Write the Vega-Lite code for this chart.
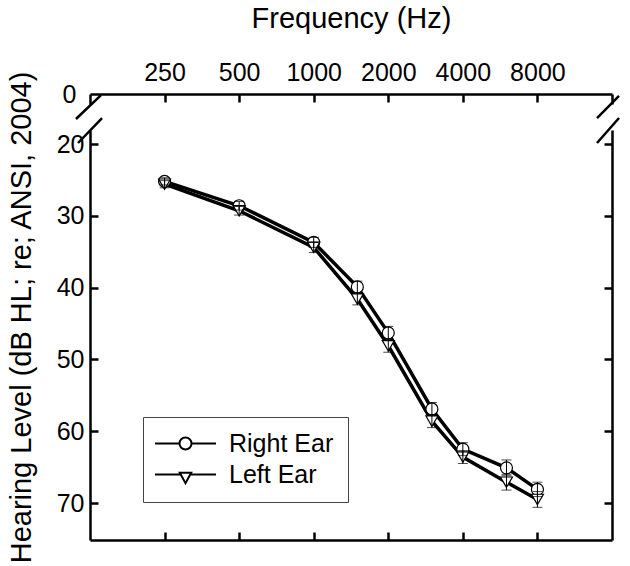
{
  "$schema": "https://vega.github.io/schema/vega-lite/v6.json",
  "background": "white",
  "padding": {"left": 7, "top": 4, "right": 5, "bottom": 5},
  "bounds": "flush",
  "spacing": 26,
  "config": {
    "font": "Liberation Sans",
    "view": {"stroke": null},
    "axis": {
      "grid": false,
      "domainColor": "black",
      "domainWidth": 2.5,
      "tickColor": "black",
      "tickWidth": 2.5,
      "labelColor": "black",
      "titleColor": "black",
      "labelFont": "Liberation Sans",
      "titleFont": "Liberation Sans",
      "labelFontSize": 25,
      "titleFontSize": 29,
      "titleFontWeight": "normal",
      "labelOverlap": false
    }
  },
  "datasets": {
    "audio": [
      {"ear": "Right Ear", "freq": 250, "hl": 25.2, "lo": 24.7, "hi": 25.7},
      {"ear": "Right Ear", "freq": 500, "hl": 28.6, "lo": 28.0, "hi": 29.2},
      {"ear": "Right Ear", "freq": 1000, "hl": 33.7, "lo": 33.0, "hi": 34.4},
      {"ear": "Right Ear", "freq": 1500, "hl": 39.9, "lo": 39.1, "hi": 40.7},
      {"ear": "Right Ear", "freq": 2000, "hl": 46.3, "lo": 45.4, "hi": 47.2},
      {"ear": "Right Ear", "freq": 3000, "hl": 56.9, "lo": 56.0, "hi": 57.8},
      {"ear": "Right Ear", "freq": 4000, "hl": 62.5, "lo": 61.6, "hi": 63.4},
      {"ear": "Right Ear", "freq": 6000, "hl": 65.1, "lo": 64.0, "hi": 66.2},
      {"ear": "Right Ear", "freq": 8000, "hl": 68.1, "lo": 67.1, "hi": 69.1},
      {"ear": "Left Ear", "freq": 250, "hl": 25.6, "lo": 25.1, "hi": 26.1},
      {"ear": "Left Ear", "freq": 500, "hl": 29.3, "lo": 28.7, "hi": 29.9},
      {"ear": "Left Ear", "freq": 1000, "hl": 34.4, "lo": 33.7, "hi": 35.1},
      {"ear": "Left Ear", "freq": 1500, "hl": 41.6, "lo": 40.8, "hi": 42.4},
      {"ear": "Left Ear", "freq": 2000, "hl": 48.1, "lo": 47.2, "hi": 49.0},
      {"ear": "Left Ear", "freq": 3000, "hl": 58.6, "lo": 57.7, "hi": 59.5},
      {"ear": "Left Ear", "freq": 4000, "hl": 63.6, "lo": 62.7, "hi": 64.5},
      {"ear": "Left Ear", "freq": 6000, "hl": 67.1, "lo": 66.0, "hi": 68.2},
      {"ear": "Left Ear", "freq": 8000, "hl": 69.5, "lo": 68.4, "hi": 70.6}
    ]
  },
  "resolve": {"legend": {"shape": "independent"}, "scale": {"shape": "independent"}},
  "vconcat": [
    {
      "width": 522,
      "height": 10,
      "data": {"name": "audio"},
      "layer": [
        {
          "mark": {"type": "point", "opacity": 0},
          "encoding": {
            "x": {
              "field": "freq", "type": "quantitative",
              "scale": {"type": "log", "domain": [125, 16000], "nice": false},
              "axis": {"orient": "top", "values": [250, 500, 1000, 2000, 4000, 8000], "format": "d", "title": "Frequency (Hz)", "tickSize": -8, "labelPadding": 17, "titlePadding": 27, "labelFlush": false}
            },
            "y": {
              "datum": 0, "type": "quantitative",
              "scale": {"domain": [0, 1.4], "reverse": true, "nice": false},
              "axis": {"values": [0], "tickSize": 0, "labelPadding": 14, "title": null}
            }
          }
        },
        {
          "mark": {"type": "point", "opacity": 0},
          "encoding": {
            "x": {"field": "freq", "type": "quantitative"},
            "y": {"datum": 0, "type": "quantitative", "axis": {"orient": "right", "values": [0], "labels": false, "ticks": false, "title": null}}
          }
        }
      ],
      "resolve": {"axis": {"y": "independent"}}
    },
    {
      "width": 522,
      "height": 410,
      "data": {"name": "audio"},
      "layer": [
        {
          "mark": {"type": "line", "color": "black", "strokeWidth": 3.5},
          "encoding": {
            "x": {
              "field": "freq", "type": "quantitative",
              "scale": {"type": "log", "domain": [125, 16000], "nice": false},
              "axis": {"orient": "bottom", "values": [250, 500, 1000, 2000, 4000, 8000], "labels": false, "tickSize": -8, "title": null}
            },
            "y": {
              "field": "hl", "type": "quantitative",
              "scale": {"domain": [18.05, 75.15], "reverse": true, "nice": false, "zero": false},
              "axis": {"orient": "left", "values": [20, 30, 40, 50, 60, 70], "tickSize": -8, "labelPadding": 14, "title": "Hearing Level (dB HL; re; ANSI, 2004)", "titlePadding": 20, "titleY": 187}
            },
            "detail": {"field": "ear", "type": "nominal"}
          }
        },
        {
          "mark": {"type": "point", "fill": "white", "stroke": "black", "strokeWidth": 1.2, "size": 144, "opacity": 1, "fillOpacity": 1},
          "encoding": {
            "x": {"field": "freq", "type": "quantitative"},
            "y": {"field": "hl", "type": "quantitative", "axis": null},
            "shape": {
              "field": "ear", "type": "nominal",
              "scale": {"domain": ["Right Ear", "Left Ear"], "range": ["circle", "triangle-down"]},
              "legend": null
            }
          }
        },
        {
          "data": {"values": []},
          "mark": {"type": "point", "filled": true, "color": "white", "stroke": "black", "strokeWidth": 2, "opacity": 1},
          "encoding": {
            "shape": {
              "field": "ear", "type": "nominal",
              "scale": {
                "domain": ["Right Ear", "Left Ear"],
                "range": [
                  "M-5.08,0L-1,0M1,0L5.08,0M-1,0C-1,-0.552 -0.552,-1 0,-1C0.552,-1 1,-0.552 1,0C1,0.552 0.552,1 0,1C-0.552,1 -1,0.552 -1,0Z",
                  "M-5.08,0L-0.787,0M0.787,0L5.08,0M-0.95,-0.3L0.95,-0.3L0,1.45Z"
                ]
              },
              "legend": {
                "orient": "none", "legendX": 53, "legendY": 287,
                "title": null,
                "labelFontSize": 25, "labelFont": "Liberation Sans", "labelColor": "black",
                "strokeColor": "#444", "fillColor": "white", "padding": 14,
                "symbolSize": 144, "symbolStrokeWidth": 2,
                "symbolOffset": 16, "labelOffset": 31, "rowPadding": 5
              }
            }
          }
        },
        {
          "mark": {"type": "errorbar", "color": "black", "thickness": 1, "ticks": {"size": 10, "thickness": 1, "color": "black"}},
          "encoding": {
            "x": {"field": "freq", "type": "quantitative"},
            "y": {"field": "lo", "type": "quantitative", "axis": null},
            "y2": {"field": "hi"}
          }
        },
        {
          "mark": {"type": "point", "opacity": 0},
          "encoding": {
            "x": {"field": "freq", "type": "quantitative"},
            "y": {"field": "hl", "type": "quantitative", "axis": {"orient": "right", "values": [20, 30, 40, 50, 60, 70], "tickSize": -8, "labels": false, "title": null}}
          }
        },
        {
          "data": {"values": [{}]},
          "mark": {"type": "rule", "color": "black", "strokeWidth": 2.5, "clip": false},
          "encoding": {
            "x": {"datum": 109.7, "type": "quantitative"},
            "x2": {"datum": 138.5},
            "y": {"datum": 16.52, "type": "quantitative", "axis": null},
            "y2": {"datum": 13.18}
          }
        },
        {
          "data": {"values": [{}]},
          "mark": {"type": "rule", "color": "black", "strokeWidth": 2.5, "clip": false},
          "encoding": {
            "x": {"datum": 111.8, "type": "quantitative"},
            "x2": {"datum": 139.8},
            "y": {"datum": 19.86, "type": "quantitative", "axis": null},
            "y2": {"datum": 16.38}
          }
        },
        {
          "data": {"values": [{}]},
          "mark": {"type": "rule", "color": "black", "strokeWidth": 2.5, "clip": false},
          "encoding": {
            "x": {"datum": 13919, "type": "quantitative"},
            "x2": {"datum": 17077},
            "y": {"datum": 16.38, "type": "quantitative", "axis": null},
            "y2": {"datum": 13.31}
          }
        },
        {
          "data": {"values": [{}]},
          "mark": {"type": "rule", "color": "black", "strokeWidth": 2.5, "clip": false},
          "encoding": {
            "x": {"datum": 13919, "type": "quantitative"},
            "x2": {"datum": 17077},
            "y": {"datum": 19.86, "type": "quantitative", "axis": null},
            "y2": {"datum": 16.38}
          }
        }
      ],
      "resolve": {"axis": {"y": "independent"}, "scale": {"shape": "independent"}, "legend": {"shape": "independent"}}
    }
  ]
}
